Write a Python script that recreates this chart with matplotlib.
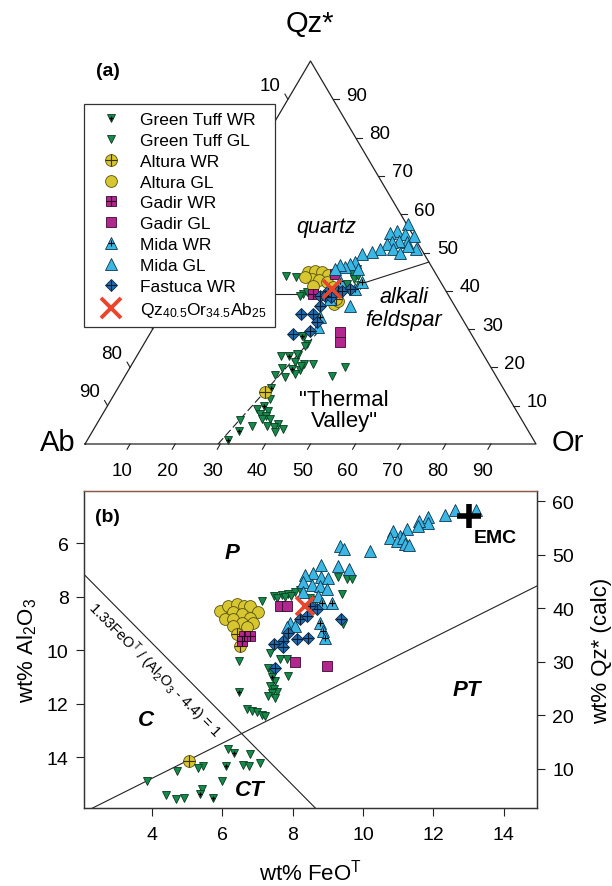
import numpy as np
import matplotlib
matplotlib.use('Agg')
import matplotlib.pyplot as plt
from matplotlib.lines import Line2D

plt.rcParams['font.family'] = ['Liberation Sans', 'DejaVu Sans']
plt.rcParams['mathtext.fontset'] = 'custom'
plt.rcParams['mathtext.rm'] = 'Liberation Sans'
plt.rcParams['mathtext.it'] = 'Liberation Sans:italic'
plt.rcParams['mathtext.bf'] = 'Liberation Sans:bold'

# ------------------------------------------------------------------
# Panel (a) data : ternary compositions in % (Qz*, Or); Ab = 100 - Qz - Or
# ------------------------------------------------------------------
gt_gl_a_qz = [43.9, 43.5, 39.2, 39.6, 38.6, 45.7, 44.4, 43.1, 43.9, 41.8, 41.5, 39.2,
              22.9, 23.2, 21.3, 20.9, 19.8, 19.4, 18.0, 17.4, 18.3, 20.4, 11.7, 9.1,
              8.7, 7.8, 7.2, 6.5, 6.5, 5.2, 4.4, 3.9, 4.8, 3.1, 6.3, 4.8, 28.3, 26.1,
              17.8, 20.0, 20.9, 23.5, 25.7]
gt_gl_a_or = [22.7, 25.1, 28.8, 29.4, 28.4, 37.4, 36.9, 38.1, 38.6, 37.1, 40.2, 36.9,
              32.0, 35.7, 35.9, 38.0, 33.7, 38.0, 33.1, 35.6, 37.5, 37.8, 35.1, 33.5,
              36.3, 34.9, 36.5, 35.9, 37.7, 40.3, 39.6, 42.0, 37.9, 40.6, 31.3, 34.6,
              34.3, 36.1, 45.8, 47.6, 40.2, 35.2, 36.0]
gt_wr_a_qz = [22.9, 19.6, 14.5, 9.8, 3.5, 1.1, 28.3]
gt_wr_a_or = [33.7, 36.0, 33.9, 34.8, 32.5, 31.2, 33.9]

alt_gl_a_qz = [44.8, 45.2, 44.8, 44.2, 43.1, 42.8, 43.5, 42.2, 41.3, 40.9, 36.6, 37.4]
alt_gl_a_or = [27.1, 28.4, 30.1, 31.8, 28.8, 30.5, 27.0, 32.5, 29.9, 34.6, 36.9, 37.5]
alt_wr_a_qz = [13.7, 37.9]
alt_wr_a_or = [33.0, 36.8]

gad_gl_a_qz = [44.4, 29.3, 26.7]
gad_gl_a_or = [33.2, 41.8, 43.1]
gad_wr_a_qz = [39.2]
gad_wr_a_or = [31.0]

mida_gl_a_qz = [57.4, 55.7, 55.1, 54.8, 54.2, 52.7, 53.1, 52.7, 52.2, 50.9, 51.8, 50.9,
                49.9, 50.9, 50.1, 49.6, 47.5, 47.0, 46.2, 46.7, 45.7, 45.7, 36.1, 30.5]
mida_gl_a_or = [43.0, 41.3, 40.1, 43.6, 45.8, 45.0, 43.0, 41.7, 40.8, 48.0, 45.8, 42.9,
                44.9, 39.9, 38.6, 36.6, 36.1, 35.3, 34.5, 33.1, 32.6, 37.7, 40.7, 36.5]
mida_wr_a_qz = [42.6, 40.5, 37.9, 33.2, 42.3]
mida_wr_a_or = [35.2, 39.7, 35.4, 35.5, 40.2]

fas_wr_a_qz = [40.0, 38.7, 33.9, 33.9, 36.1, 31.8, 28.7, 29.6, 38.7, 38.3, 40.0, 40.5, 40.0]
fas_wr_a_or = [33.9, 32.7, 31.0, 33.6, 34.0, 35.5, 31.8, 35.1, 33.8, 35.5, 36.2, 38.6, 36.9]

ref_a_qz = [40.5]
ref_a_or = [34.5]

# phase boundaries (Qz, Or) in %
qz_fsp_left_qz = [39.2, 39.2]
qz_fsp_left_or = [0.0, 34.7]
qz_fsp_right_qz = [39.2, 47.5]
qz_fsp_right_or = [34.7, 52.5]
valley_qz = [0.0, 29.0]
valley_or = [29.5, 37.0]

tern_ticks = [10, 20, 30, 40, 50, 60, 70, 80, 90]
ab_labels_shown = [10, 80, 90]   # the others sit behind the legend box

# ------------------------------------------------------------------
# Panel (b) data : wt% FeO^T, wt% Al2O3
# ------------------------------------------------------------------
gt_gl_b_fe = [7.46, 7.69, 7.88, 8.07, 8.21, 7.55, 7.78, 7.97, 7.13, 9.30, 9.54, 9.68,
              9.40, 8.50, 8.65, 9.44, 6.49, 7.36, 7.65, 7.83, 7.31, 7.88, 7.41, 7.50,
              7.36, 7.46, 7.55, 7.41, 7.31, 7.50, 6.70, 6.84, 6.98, 7.13, 7.22, 6.18,
              6.78, 7.08, 6.60, 6.77, 5.47, 5.33, 4.71, 3.86, 5.99, 5.42, 4.41, 4.70, 4.93]
gt_gl_b_al = [7.97, 7.94, 7.91, 7.84, 7.74, 8.05, 8.02, 7.99, 8.16, 7.28, 7.35, 7.35,
              7.91, 8.05, 8.12, 9.03, 10.40, 10.09, 10.34, 10.34, 10.65, 10.96, 10.85, 11.15,
              11.33, 11.45, 11.55, 11.60, 11.72, 11.77, 12.20, 12.27, 12.33, 12.43, 12.45, 13.68,
              13.89, 14.20, 14.29, 14.32, 14.32, 14.39, 14.51, 14.89, 14.89, 15.20, 15.41, 15.57, 15.51]
gt_wr_b_fe = [6.49, 6.34, 6.11, 5.38, 5.75, 7.41]
gt_wr_b_al = [11.56, 13.86, 14.32, 15.38, 15.53, 11.00]

alt_gl_b_fe = [5.94, 6.18, 6.42, 6.61, 6.79, 7.03, 6.32, 6.56, 6.79, 6.09, 6.32, 6.56, 6.89, 6.32, 6.70]
alt_gl_b_al = [8.53, 8.34, 8.28, 8.34, 8.34, 8.59, 8.59, 8.65, 8.78, 8.84, 8.84, 8.97, 8.97, 9.09, 9.15]
alt_wr_b_fe = [6.42, 6.51, 5.05]
alt_wr_b_al = [9.40, 9.84, 14.13]

gad_gl_b_fe = [7.63, 7.85, 8.07, 8.97]
gad_gl_b_al = [8.34, 8.34, 10.44, 10.59]
gad_wr_b_fe = [6.61, 6.78, 6.56]
gad_wr_b_al = [9.46, 9.46, 9.65]

mida_gl_b_fe = [12.34, 12.61, 13.22, 11.85, 11.85, 11.60, 11.57, 10.86, 10.77, 11.05, 10.96,
                11.24, 11.14, 11.19, 11.31, 10.20, 9.34, 9.45, 8.80, 9.30, 9.61, 8.59, 8.35,
                8.80, 9.02, 8.31, 8.54, 8.78, 8.97, 8.31, 8.73, 7.93, 8.07, 7.83]
mida_gl_b_al = [4.95, 4.77, 4.77, 5.04, 5.23, 5.16, 5.35, 5.54, 5.79, 5.73, 5.91,
                5.48, 5.79, 6.04, 6.06, 6.29, 6.12, 6.22, 6.82, 6.85, 6.95, 7.10, 7.20,
                7.28, 7.32, 7.47, 7.57, 7.60, 7.72, 7.84, 7.97, 8.97, 9.09, 9.15]
mida_wr_b_fe = [8.83, 9.11, 8.78, 8.87, 8.92]
mida_wr_b_al = [8.22, 8.22, 8.97, 9.28, 9.53]

fas_wr_b_fe = [8.21, 8.40, 8.69, 7.88, 7.74, 8.12, 8.45, 7.46, 7.74, 7.50, 9.39, 8.50]
fas_wr_b_al = [8.84, 8.72, 8.47, 9.34, 9.65, 9.59, 9.53, 9.78, 9.90, 10.65, 8.84, 8.34]

ref_b_fe = [8.35]
ref_b_al = [8.35]
emc_fe = [13.0]
emc_al = [4.99]

# classification lines: Al2O3 = a * FeO + b
line_cp = (1.33, 4.4)      # 1.33 FeO / (Al2O3 - 4.4) = 1
line_t = (-0.658, 17.43)
qz_calc = (82.2, -5.0)     # Qz*(calc) = 82.2 - 5 * Al2O3

# ------------------------------------------------------------------
# Styles
# ------------------------------------------------------------------
C_GT = '#16894b'
C_ALT = '#d6c630'
C_GAD = '#b3268e'
C_MIDA = '#3bb7e4'
C_FAS = '#1f6db0'
C_X = '#e8452c'
EW = 0.6

styles = {
    'gt_gl': dict(marker='v', ms=5.8, mfc=C_GT, mec='#0a3a20', mew=EW, ls='none'),
    'alt_gl': dict(marker='o', ms=8.5, mfc=C_ALT, mec='#5a5010', mew=EW, ls='none'),
    'gad_gl': dict(marker='s', ms=6.8, mfc=C_GAD, mec='#3a0830', mew=EW, ls='none'),
    'mida_gl': dict(marker='^', ms=8.2, mfc=C_MIDA, mec='#0b3550', mew=EW, ls='none'),
    'fas_wr': dict(marker='D', ms=6.4, mfc=C_FAS, mec='#0a2540', mew=EW, ls='none'),
    'x': dict(marker='x', ms=13, mec=C_X, mew=2.6, ls='none'),
}
plus = {
    'gt_gl': dict(marker='+', ms=3.2, mec='black', mew=0.9, ls='none'),
    'alt_gl': dict(marker='+', ms=8.0, mec='#3a3000', mew=0.8, ls='none'),
    'gad_gl': dict(marker='+', ms=6.5, mec='#2a0020', mew=0.8, ls='none'),
    'mida_gl': dict(marker='+', ms=4.0, mec='black', mew=0.8, ls='none'),
    'fas_wr': dict(marker='+', ms=7.5, mec='#061a30', mew=0.8, ls='none'),
}

W, H = 612, 887
fig = plt.figure(figsize=(W / 100, H / 100), dpi=100)
fig.patch.set_facecolor('white')

# ------------------------------------------------------------------
# Panel (a) : ternary
# ------------------------------------------------------------------
A_TOP = 480
axa = fig.add_axes([0, 1 - A_TOP / H, 1, A_TOP / H])
axa.set_axis_off()
SX = 451.0
SY = 383.0 / (np.sqrt(3) / 2)
X0, Y0 = 85.0, 445.0
axa.set_xlim(-X0 / SX, (W - X0) / SX)
axa.set_ylim((Y0 - A_TOP) / SY, Y0 / SY)


def pix(px, py):
    return (px - X0) / SX, (Y0 - py) / SY


def tern(qz, orr):
    qz = np.asarray(qz, float) / 100.0
    orr = np.asarray(orr, float) / 100.0
    return orr + qz / 2.0, qz * np.sqrt(3) / 2.0


tx, ty = tern([0, 0, 100, 0], [0, 100, 0, 0])
axa.plot(tx, ty, color='#222222', lw=0.9, zorder=2)

tl = 6.0
for v in tern_ticks:
    x, y = tern(0, v)
    axa.plot([x, x - 0.5 * tl / SX], [y, y - 0.866 * tl / SY], color='#222222', lw=0.8)
    axa.text(x - 8 / SX, y - 27 / SY, str(v), ha='center', va='center', fontsize=13.5)
    x, y = tern(v, 100 - v)
    axa.plot([x, x + tl / SX], [y, y], color='#222222', lw=0.8)
    axa.text(x + 24 / SX, y + 4 / SY, str(v), ha='center', va='center', fontsize=13.5)
    x, y = tern(100 - v, 0)
    axa.plot([x, x - 0.5 * tl / SX], [y, y + 0.866 * tl / SY], color='#222222', lw=0.8)
    if v in ab_labels_shown:
        axa.text(x - 18 / SX, y + 14 / SY, str(v), ha='center', va='center', fontsize=13.5)

for qz, orr, ls in [(qz_fsp_left_qz, qz_fsp_left_or, '-'),
                    (qz_fsp_right_qz, qz_fsp_right_or, '-'),
                    (valley_qz, valley_or, (0, (7, 3)))]:
    x, y = tern(qz, orr)
    axa.plot(x, y, color='#222222', lw=0.8, ls=ls, zorder=2)


def tplot(ax, qz, orr, key, wr=False):
    x, y = tern(qz, orr)
    ax.plot(x, y, zorder=3, **styles[key])
    if wr:
        ax.plot(x, y, zorder=3, **plus[key])


tplot(axa, gt_gl_a_qz, gt_gl_a_or, 'gt_gl')
tplot(axa, gt_wr_a_qz, gt_wr_a_or, 'gt_gl', wr=True)
tplot(axa, alt_gl_a_qz, alt_gl_a_or, 'alt_gl')
tplot(axa, alt_wr_a_qz, alt_wr_a_or, 'alt_gl', wr=True)
tplot(axa, gad_gl_a_qz, gad_gl_a_or, 'gad_gl')
tplot(axa, gad_wr_a_qz, gad_wr_a_or, 'gad_gl', wr=True)
tplot(axa, mida_gl_a_qz, mida_gl_a_or, 'mida_gl')
tplot(axa, mida_wr_a_qz, mida_wr_a_or, 'mida_gl', wr=True)
tplot(axa, fas_wr_a_qz, fas_wr_a_or, 'fas_wr', wr=True)
xr, yr = tern(ref_a_qz, ref_a_or)
axa.plot(xr, yr, zorder=4, **styles['x'])

axa.text(*pix(310, 24), 'Qz*', ha='center', va='center', fontsize=21)
axa.text(*pix(58, 443), 'Ab', ha='center', va='center', fontsize=21)
axa.text(*pix(568, 443), 'Or', ha='center', va='center', fontsize=21)
axa.text(*pix(108, 72), '(a)', ha='center', va='center', fontsize=14, fontweight='bold')
axa.text(*pix(326, 227), 'quartz', ha='center', va='center', fontsize=15.5, style='italic')
axa.text(*pix(404, 309), 'alkali\nfeldspar', ha='center', va='center', fontsize=15.5,
         style='italic', linespacing=1.1)
axa.text(*pix(344, 411), '"Thermal\nValley"', ha='center', va='center', fontsize=16,
         linespacing=1.0)

# legend
def h(key, wr=False):
    base = Line2D([], [], **styles[key])
    if wr:
        return (base, Line2D([], [], **plus[key]))
    return base

handles = [h('gt_gl', True), h('gt_gl'), h('alt_gl', True), h('alt_gl'),
           h('gad_gl', True), h('gad_gl'), h('mida_gl', True), h('mida_gl'),
           h('fas_wr', True), Line2D([], [], marker='x', ms=15, mec=C_X, mew=2.8, ls='none')]
labels = ['Green Tuff WR', 'Green Tuff GL', 'Altura WR', 'Altura GL', 'Gadir WR', 'Gadir GL',
          'Mida WR', 'Mida GL', 'Fastuca WR', r'Qz$_{40.5}$Or$_{34.5}$Ab$_{25}$']
leg = axa.legend(handles, labels, loc='upper left', bbox_to_anchor=(84 / W, 1 - 105 / H),
                 bbox_transform=fig.transFigure, fontsize=12.5, frameon=True, fancybox=False,
                 framealpha=1, edgecolor='#333333', borderpad=0.45, labelspacing=0.33,
                 handlelength=2.2, handletextpad=0.6, borderaxespad=0)
leg.get_frame().set_linewidth(0.9)
leg.set_zorder(10)

# ------------------------------------------------------------------
# Panel (b)
# ------------------------------------------------------------------
axb = fig.add_axes([84 / W, 1 - 809 / H, (537 - 84) / W, (809 - 492) / H])
axb.set_xlim(2.08, 14.94)
axb.set_ylim(15.9, 4.05)
axr = axb.twinx()
axr.set_ylim(qz_calc[0] + qz_calc[1] * 15.9, qz_calc[0] + qz_calc[1] * 4.05)

fe_line = np.array(axb.get_xlim())
axb.plot(fe_line, line_cp[0] * fe_line + line_cp[1], color='#222222', lw=0.8, zorder=2)
axb.plot(fe_line, line_t[0] * fe_line + line_t[1], color='#222222', lw=0.8, zorder=2)


def bplot(ax, fe, al, key, wr=False):
    ax.plot(fe, al, zorder=3, **styles[key])
    if wr:
        ax.plot(fe, al, zorder=3, **plus[key])


bplot(axb, alt_gl_b_fe, alt_gl_b_al, 'alt_gl')
bplot(axb, alt_wr_b_fe, alt_wr_b_al, 'alt_gl', wr=True)
bplot(axb, gad_wr_b_fe, gad_wr_b_al, 'gad_gl', wr=True)
bplot(axb, gt_gl_b_fe, gt_gl_b_al, 'gt_gl')
bplot(axb, gt_wr_b_fe, gt_wr_b_al, 'gt_gl', wr=True)
bplot(axb, gad_gl_b_fe, gad_gl_b_al, 'gad_gl')
bplot(axb, mida_gl_b_fe, mida_gl_b_al, 'mida_gl')
bplot(axb, mida_wr_b_fe, mida_wr_b_al, 'mida_gl', wr=True)
bplot(axb, fas_wr_b_fe, fas_wr_b_al, 'fas_wr', wr=True)
axb.plot(ref_b_fe, ref_b_al, zorder=4, **styles['x'])
axb.plot(emc_fe, emc_al, marker='+', ms=17, mec='black', mew=4, ls='none', zorder=4)

axb.text(13.77, 5.8, 'EMC', ha='center', va='center', fontsize=14, fontweight='bold')
axb.text(6.28, 6.34, 'P', ha='center', va='center', fontsize=16, fontweight='bold', style='italic')
axb.text(12.95, 11.46, 'PT', ha='center', va='center', fontsize=16, fontweight='bold', style='italic')
axb.text(3.85, 12.58, 'C', ha='center', va='center', fontsize=16, fontweight='bold', style='italic')
axb.text(6.8, 15.2, 'CT', ha='center', va='center', fontsize=16, fontweight='bold', style='italic')
axb.text(0.051, 0.921, '(b)', transform=axb.transAxes, ha='center', va='center',
         fontsize=14, fontweight='bold')
axb.text(4.09, 10.71, r'1.33FeO$^\mathrm{T}$ / (Al$_2$O$_3$ - 4.4) = 1', rotation=-45.5,
         rotation_mode='anchor', ha='center', va='center', fontsize=10.5)

axb.set_xticks([4, 6, 8, 10, 12, 14])
axb.set_yticks([6, 8, 10, 12, 14])
axr.set_yticks([10, 20, 30, 40, 50, 60])
for ax in (axb, axr):
    ax.tick_params(direction='out', length=6, width=0.8, labelsize=14, pad=5, color='#222222')
    for s in ax.spines.values():
        s.set_linewidth(0.9)
        s.set_color('#333333')
axb.tick_params(axis='x', pad=7)
axb.spines['top'].set_color('#8b5a4a')
axr.spines['top'].set_color('#8b5a4a')
axb.set_xlabel(r'wt% FeO$^\mathrm{T}$', fontsize=16, labelpad=11)
axb.set_ylabel(r'wt% Al$_2$O$_3$', fontsize=16, labelpad=6)
axr.set_ylabel('wt% Qz* (calc)', fontsize=16, labelpad=12)

fig.savefig('out.png', dpi=100, facecolor='white')
